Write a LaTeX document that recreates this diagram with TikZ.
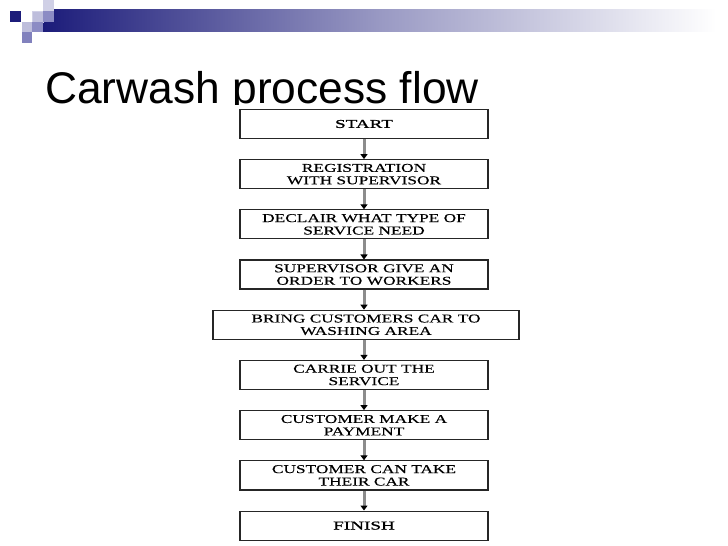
\documentclass[tikz,border=0pt]{standalone}
\usepackage{fontspec}
\setmainfont{Liberation Serif}
\newfontfamily\titlefont{Liberation Sans}
\newfontfamily\boxfont[FakeStretch=1.45, FakeBold=0.25]{Liberation Serif}
\newfontfamily\endfont[FakeStretch=1.6, FakeBold=1.2]{Liberation Serif}
\usetikzlibrary{positioning,arrows.meta}
\definecolor{navy}{RGB}{28,28,122}
\definecolor{palelav}{RGB}{208,208,230}
\definecolor{lightlav}{RGB}{190,190,220}
\definecolor{midlav}{RGB}{140,140,196}
\definecolor{linegray}{RGB}{140,140,140}
\tikzset{
  stepbox/.style={draw=black!85, line width=1.2bp, minimum width=248bp, minimum height=29bp,
    align=center, inner sep=1bp, font=\boxfont\fontsize{12}{12.5}\selectfont},
  endbox/.style={stepbox, font=\endfont\fontsize{12}{12}\selectfont},
  flow/.style={linegray, line width=3bp, -{Triangle[color=black, width=7bp, length=5bp]}}
}

\begin{document}
\begin{tikzpicture}[x=1bp, y=1bp, node distance=20bp]
    \useasboundingbox[fill=white](0,0)rectangle(728,546);
    % header bar
    \shade[left color=navy, right color=white, middle color=navy!45!white](43,514)rectangle(716,536);
    % squares
    \fill[navy](10,524)rectangle(21,535);
    \fill[lightlav, draw=palelav](32,524)rectangle(43,535);
    \fill[palelav](43,535)rectangle(54,546);
    \fill[midlav](43,524)rectangle(54,535);
    \fill[lightlav](22,514)rectangle(32,524);
    \fill[midlav](32,514)rectangle(43,524);
    \fill[midlav!90!navy](22,503)rectangle(32,514);
    % title
    \node[anchor=base west, inner sep=0pt, font=\titlefont\fontsize{44.5}{44.5}\selectfont](title)at(45,442){Carwash process flow};
    % chart background
    \fill[white](200,0)rectangle(545,441);
    % steps
    \node[endbox](start)at(364,422){START};
    \node[stepbox, below=of start](reg){REGISTRATION\\WITH SUPERVISOR};
    \node[stepbox, below=of reg](declair){DECLAIR WHAT TYPE OF\\SERVICE NEED};
    \node[stepbox, below=of declair](order){SUPERVISOR GIVE AN\\ORDER TO WORKERS};
    \node[stepbox, below=of order, minimum width=306bp, xshift=2bp](bring){BRING CUSTOMERS CAR TO\\WASHING AREA};
    \node[stepbox, below=of bring, xshift=-2bp](carrie){CARRIE OUT THE\\SERVICE};
    \node[stepbox, below=of carrie](payment){CUSTOMER MAKE A\\PAYMENT};
    \node[stepbox, below=of payment](take){CUSTOMER CAN TAKE\\THEIR CAR};
    \node[endbox, below=of take](finish){FINISH};
    % arrows
    \draw[flow](start)--(reg);
    \draw[flow](reg)--(declair);
    \draw[flow](declair)--(order);
    \draw[flow](order.south)--(order.south|-bring.north);
    \draw[flow](bring.south-|carrie.north)--(carrie.north);
    \draw[flow](carrie)--(payment);
    \draw[flow](payment)--(take);
    \draw[flow](take)--(finish);
\end{tikzpicture}
\end{document}
